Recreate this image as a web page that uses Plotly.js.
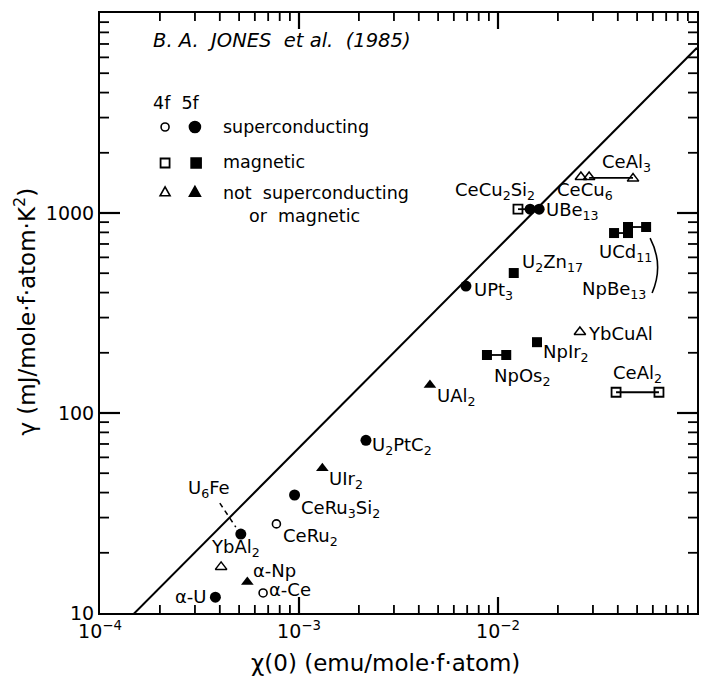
<!DOCTYPE html>
<html>
<head>
<meta charset="utf-8">
<script src="https://cdn.plot.ly/plotly-3.0.1.min.js"></script>
<style>html,body{margin:0;padding:0;background:#fff;}</style>
</head>
<body>
<div id="chart" style="width:715px;height:681px;"></div>
<script>
// ---------------- data ----------------
// 5f superconducting (filled circles)
const scFilledNames = ["α-U", "U6Fe", "CeRu3Si2", "U2PtC2", "UPt3", "UBe13a", "UBe13b"];
const scFilledX = [3.8e-4, 5.1e-4, 9.5e-4, 2.17e-3, 6.9e-3, 1.45e-2, 1.61e-2];
const scFilledY = [12.0, 24.8, 38.9, 73, 431, 1045, 1045];
// 4f superconducting (open circles)
const scOpenNames = ["α-Ce", "CeRu2"];
const scOpenX = [6.6e-4, 7.7e-4];
const scOpenY = [12.6, 27.9];
// 5f magnetic (filled squares)
const magFilledNames = ["NpOs2a", "NpOs2b", "U2Zn17", "NpIr2", "UCd11", "UCd11b", "NpBe13a", "NpBe13b"];
const magFilledX = [8.8e-3, 1.1e-2, 1.2e-2, 1.57e-2, 3.83e-2, 4.5e-2, 4.5e-2, 5.55e-2];
const magFilledY = [195, 195, 501, 226, 794, 794, 851, 851];
// 4f magnetic (open squares)
const magOpenNames = ["CeCu2Si2", "CeAl2a", "CeAl2b"];
const magOpenX = [1.26e-2, 3.92e-2, 6.44e-2];
const magOpenY = [1045, 127, 127];
// 5f neither (filled triangles)
const nsFilledNames = ["α-Np", "UIr2", "UAl2"];
const nsFilledX = [5.5e-4, 1.31e-3, 4.55e-3];
const nsFilledY = [14.3, 53, 138];
// 4f neither (open triangles)
const nsOpenNames = ["YbAl2", "YbCuAl", "CeCu6a", "CeCu6b", "CeAl3"];
const nsOpenX = [4.06e-4, 2.58e-2, 2.61e-2, 2.87e-2, 4.77e-2];
const nsOpenY = [17.0, 254, 1514, 1514, 1486];

// ranges connecting two values of the same compound
const rangeUBe13X = [1.26e-2, 1.61e-2],  rangeUBe13Y = [1045, 1045];
const rangeNpOs2X = [8.8e-3, 1.1e-2],    rangeNpOs2Y = [195, 195];
const rangeUCd11X = [3.83e-2, 4.5e-2],   rangeUCd11Y = [794, 794];
const rangeNpBe13X = [4.5e-2, 5.55e-2],  rangeNpBe13Y = [851, 851];
const rangeCeAl2X = [3.92e-2, 6.44e-2],  rangeCeAl2Y = [127, 127];
const rangeCeCu6X = [2.87e-2, 4.77e-2],  rangeCeCu6Y = [1500, 1500];

// reference line gamma = k * chi
const lineK = 67000;
const lineX = [1e-4, 1e-1];
const lineY = lineX.map(v => v * lineK);

// axes
const xRange = [1e-4, 1e-1];
const yRange = [10, 1e4];
const xTickVals = [1e-4, 1e-3, 1e-2, 1e-1];
const xTickText = ["10<sup>−4</sup>", "10<sup>−3</sup>", "10<sup>−2</sup>", "10<sup>−1</sup>"];
const yTickVals = [10, 100, 1000];
const yTickText = ["10", "100", "1000"];
const xMajorInner = [1e-3, 1e-2];
const yMajorInner = [100, 1000];
const mult = [2, 3, 4, 5, 6, 7, 8, 9];
const xMinor = [1e-4, 1e-3, 1e-2].flatMap(d => mult.map(m => m * d));
const yMinor = [10, 100, 1000].flatMap(d => mult.map(m => m * d));

// frame geometry
const W = 715, H = 681, M = {l: 100, r: 18, t: 13, b: 68};
const lxr = xRange.map(Math.log10), lyr = yRange.map(Math.log10);
const pxPerLogX = (W - M.l - M.r) / (lxr[1] - lxr[0]);
const pxPerLogY = (H - M.t - M.b) / (lyr[1] - lyr[0]);

// ---------------- traces ----------------
const K = 'black';
const traces = [];
traces.push({x: lineX, y: lineY, mode: 'lines', line: {color: K, width: 2}, hoverinfo: 'skip'});
[[rangeUBe13X, rangeUBe13Y], [rangeNpOs2X, rangeNpOs2Y], [rangeUCd11X, rangeUCd11Y],
 [rangeNpBe13X, rangeNpBe13Y], [rangeCeAl2X, rangeCeAl2Y], [rangeCeCu6X, rangeCeCu6Y]].forEach(r => {
  traces.push({x: r[0], y: r[1], mode: 'lines', line: {color: K, width: 1.8}, hoverinfo: 'skip'});
});
function pts(x, y, names, symbol, size, lw) {
  return {x: x, y: y, text: names, mode: 'markers', cliponaxis: false,
    marker: {symbol: symbol, size: size, color: K, line: {color: K, width: lw}}};
}
traces.push(pts(scFilledX, scFilledY, scFilledNames, 'circle', 11, 0));
traces.push(pts(scOpenX, scOpenY, scOpenNames, 'circle-open', 8, 1.6));
traces.push(pts(magFilledX, magFilledY, magFilledNames, 'square', 10, 0));
traces.push(pts(magOpenX, magOpenY, magOpenNames, 'square-open', 9, 1.8));
traces.push(pts(nsFilledX, nsFilledY, nsFilledNames, 'triangle-up', 11, 0));
traces.push(pts(nsOpenX, nsOpenY, nsOpenNames, 'triangle-up-open', 10, 1.5));

// inward tick marks on all four frame sides (line markers of length len, set just inside the frame)
function tickTrace(xs, ys, symbol, len, w) {
  return {x: xs, y: ys, mode: 'markers', cliponaxis: false, hoverinfo: 'skip',
    marker: {symbol: symbol, size: len / 1.4, color: K, line: {color: K, width: w}}};
}
function xTicks(vals, len, w) {
  const yb = Math.pow(10, lyr[0] + len / 2 / pxPerLogY), yt = Math.pow(10, lyr[1] - len / 2 / pxPerLogY);
  return tickTrace(vals.concat(vals), vals.map(() => yb).concat(vals.map(() => yt)), 'line-ns', len, w);
}
function yTicks(vals, len, w) {
  const xl = Math.pow(10, lxr[0] + len / 2 / pxPerLogX), xr = Math.pow(10, lxr[1] - len / 2 / pxPerLogX);
  return tickTrace(vals.map(() => xl).concat(vals.map(() => xr)), vals.concat(vals), 'line-ew', len, w);
}
traces.push(xTicks(xMajorInner, 16, 2.2));
traces.push(xTicks(xMinor, 8, 1.8));
traces.push(yTicks(yMajorInner, 20, 2.2));
traces.push(yTicks(yMinor, 9, 1.8));

// ---------------- labels ----------------
const series = {
  scF: [scFilledNames, scFilledX, scFilledY], scO: [scOpenNames, scOpenX, scOpenY],
  mF: [magFilledNames, magFilledX, magFilledY], mO: [magOpenNames, magOpenX, magOpenY],
  nF: [nsFilledNames, nsFilledX, nsFilledY], nO: [nsOpenNames, nsOpenX, nsOpenY]
};
// [series, point name, label text, dx, dy, anchor]
const labels = [
  ['scF', 'α-U', 'α-U', -6, 1, 'right'],
  ['nF', 'α-Np', 'α-Np', 4, 11, 'left'],
  ['scO', 'α-Ce', 'α-Ce', 4, 3, 'left'],
  ['nO', 'YbAl2', 'YbAl<sub>2</sub>', 14, 19, 'center'],
  ['scF', 'U6Fe', 'U<sub>6</sub>Fe', -32, 45, 'center'],
  ['scO', 'CeRu2', 'CeRu<sub>2</sub>', 5, -13, 'left'],
  ['scF', 'CeRu3Si2', 'CeRu<sub>3</sub>Si<sub>2</sub>', 4, -14, 'left'],
  ['nF', 'UIr2', 'UIr<sub>2</sub>', 5, -12, 'left'],
  ['scF', 'U2PtC2', 'U<sub>2</sub>PtC<sub>2</sub>', 4, -6, 'left'],
  ['nF', 'UAl2', 'UAl<sub>2</sub>', 5, -12, 'left'],
  ['mF', 'NpOs2a', 'NpOs<sub>2</sub>', 5, -22, 'left'],
  ['mF', 'NpIr2', 'NpIr<sub>2</sub>', 4, -11, 'left'],
  ['nO', 'YbCuAl', 'YbCuAl', 6, -1, 'left'],
  ['mO', 'CeAl2a', 'CeAl<sub>2</sub>', -5, 18, 'left'],
  ['scF', 'UPt3', 'UPt<sub>3</sub>', 6, -5, 'left'],
  ['mF', 'U2Zn17', 'U<sub>2</sub>Zn<sub>17</sub>', 6, 10, 'left'],
  ['mO', 'CeCu2Si2', 'CeCu<sub>2</sub>Si<sub>2</sub>', -23, 18, 'center'],
  ['scF', 'UBe13b', 'UBe<sub>13</sub>', 5, -2, 'left'],
  ['nO', 'CeCu6a', 'CeCu<sub>6</sub>', -26, -14, 'left'],
  ['nO', 'CeAl3', 'CeAl<sub>3</sub>', -33, 16, 'left'],
  ['mF', 'UCd11', 'UCd<sub>11</sub>', -17, -20, 'left'],
  ['mF', 'NpBe13b', 'NpBe<sub>13</sub>', -66, -63, 'left']
];
const labelFont = {family: 'DejaVu Sans', size: 18, color: K};
const annotations = labels.map(l => {
  const s = series[l[0]];
  const i = s[0].indexOf(l[1]);
  return {xref: 'x', yref: 'y', x: Math.log10(s[1][i]), y: Math.log10(s[2][i]),
    text: l[2], showarrow: false, xanchor: l[5], yanchor: 'middle',
    xshift: l[3], yshift: l[4], font: labelFont};
});

// legend / title block (paper coordinates)
const legendFont = {family: 'DejaVu Sans', size: 17.5, color: K};
const titleFont = {family: 'DejaVu Sans', size: 23, color: K};
annotations.push({xref: 'paper', yref: 'paper', x: 0.085, y: 0.955, xanchor: 'left', yanchor: 'middle',
  showarrow: false, text: '<i>B. A.  JONES  et al.  (1985)</i>', font: {family: 'DejaVu Sans', size: 19.5, color: K}});
annotations.push({xref: 'paper', yref: 'paper', x: 0.086, y: 0.85, xanchor: 'left', yanchor: 'middle',
  showarrow: false, text: '4f  5f', font: legendFont});
annotations.push({xref: 'paper', yref: 'paper', x: 0.202, y: 0.81, xanchor: 'left', yanchor: 'middle',
  showarrow: false, text: 'superconducting', font: legendFont});
annotations.push({xref: 'paper', yref: 'paper', x: 0.202, y: 0.752, xanchor: 'left', yanchor: 'middle',
  showarrow: false, text: 'magnetic', font: legendFont});
annotations.push({xref: 'paper', yref: 'paper', x: 0.202, y: 0.70, xanchor: 'left', yanchor: 'middle',
  showarrow: false, text: 'not  superconducting', font: legendFont});
annotations.push({xref: 'paper', yref: 'paper', x: 0.246, y: 0.662, xanchor: 'left', yanchor: 'middle',
  showarrow: false, text: 'or  magnetic', font: legendFont});
// axis titles
annotations.push({xref: 'paper', yref: 'paper', x: 0.478, y: -0.083, xanchor: 'center', yanchor: 'middle',
  showarrow: false, text: 'χ(0) (emu/mole·f·atom)', font: titleFont});
annotations.push({xref: 'paper', yref: 'paper', x: -0.125, y: 0.503, xanchor: 'center', yanchor: 'middle',
  showarrow: false, textangle: -90, text: 'γ (mJ/mole·f·atom·K<sup>2</sup>)', font: titleFont});

// ---------------- shapes ----------------
function pxShape(type, xa, ya, extra) {
  return Object.assign({type: type, xref: 'paper', yref: 'paper', xsizemode: 'pixel', ysizemode: 'pixel',
    xanchor: xa, yanchor: ya, line: {color: K, width: 1.6}}, extra);
}
const shapes = [
  pxShape('circle', 0.109, 0.81, {x0: -4, x1: 4, y0: -4, y1: 4}),
  pxShape('circle', 0.159, 0.81, {x0: -5.5, x1: 5.5, y0: -5.5, y1: 5.5, fillcolor: K}),
  pxShape('rect', 0.109, 0.75, {x0: -4.5, x1: 4.5, y0: -4.5, y1: 4.5, line: {color: K, width: 1.8}}),
  pxShape('rect', 0.161, 0.75, {x0: -5, x1: 5, y0: -5, y1: 5, fillcolor: K}),
  pxShape('path', 0.109, 0.702, {path: 'M-5,-4 L5,-4 L0,5 Z'}),
  pxShape('path', 0.159, 0.702, {path: 'M-5.5,-4.5 L5.5,-4.5 L0,5.5 Z', fillcolor: K}),
  // U6Fe dashed leader
  {type: 'path', xref: 'x', yref: 'y', xsizemode: 'pixel', ysizemode: 'pixel',
   xanchor: scFilledX[1], yanchor: scFilledY[1],
   path: 'M-21,31 L-5,7', line: {color: K, width: 1.5, dash: '5px,4px'}},
  // NpBe13 curved leader
  {type: 'path', xref: 'x', yref: 'y', xsizemode: 'pixel', ysizemode: 'pixel',
   xanchor: magFilledX[7], yanchor: magFilledY[7],
   path: 'M4,-11 Q18,-38 6,-66', line: {color: K, width: 1.6}}
];

const tickFont = {family: 'DejaVu Sans', size: 19, color: K};
const layout = {
  width: W, height: H,
  margin: M,
  paper_bgcolor: '#fff', plot_bgcolor: '#fff', showlegend: false,
  font: {family: 'DejaVu Sans', color: K},
  xaxis: {
    type: 'log', range: lxr, showline: true, linewidth: 2, linecolor: K, mirror: true,
    ticks: '', showgrid: false, zeroline: false,
    tickvals: xTickVals, ticktext: xTickText, tickfont: tickFont
  },
  yaxis: {
    type: 'log', range: lyr, showline: true, linewidth: 2, linecolor: K, mirror: true,
    ticks: '', showgrid: false, zeroline: false,
    tickvals: yTickVals, ticktext: yTickText, tickfont: tickFont
  },
  annotations: annotations,
  shapes: shapes
};
Plotly.newPlot('chart', traces, layout, {staticPlot: true, displayModeBar: false});
</script>
</body>
</html>
